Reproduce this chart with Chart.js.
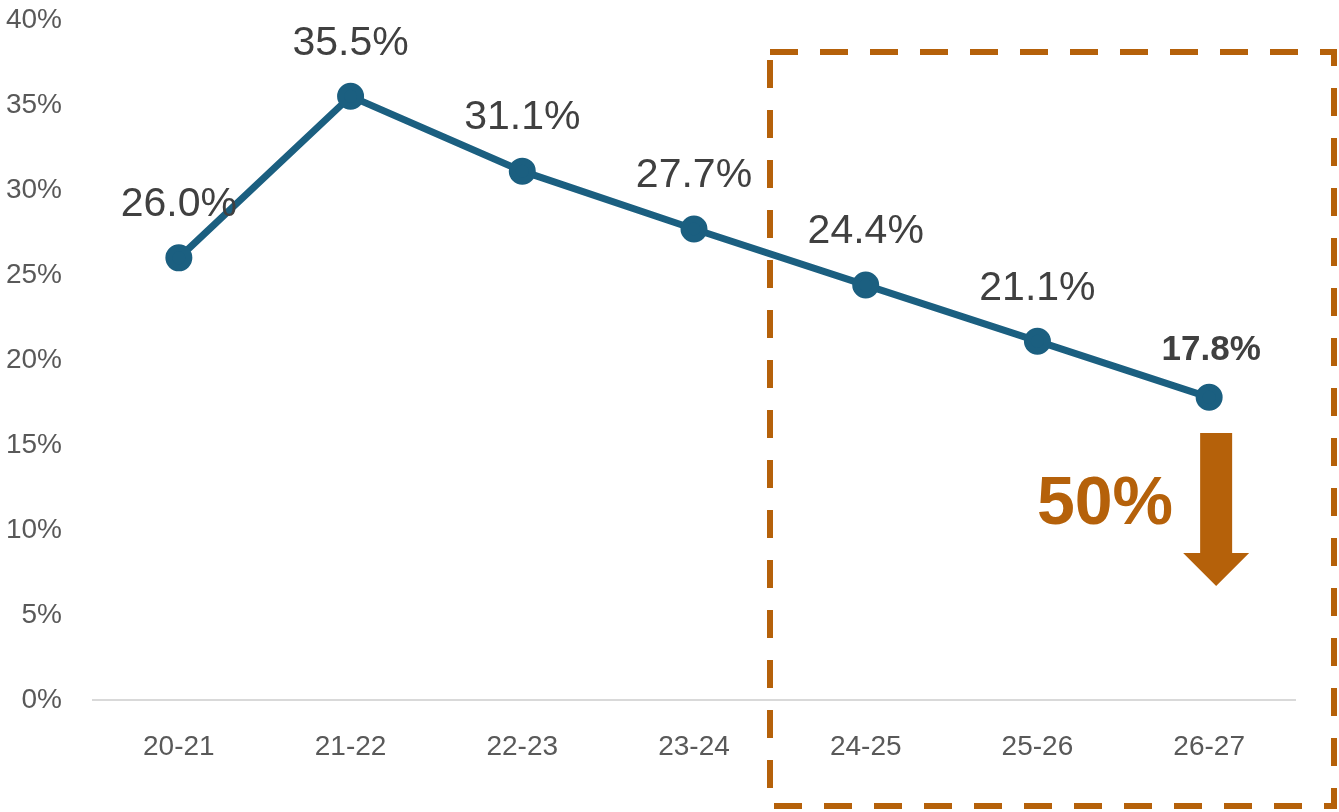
<!DOCTYPE html>
<html>
<head>
<meta charset="utf-8">
<script src="https://cdn.jsdelivr.net/npm/chart.js@4/dist/chart.umd.min.js"></script>
<style>
  html, body { margin: 0; padding: 0; background: #fff; overflow: hidden; }
  #wrap { width: 1339px; height: 840px; position: relative; top: -28px; }
</style>
</head>
<body>
<div id="wrap"><canvas id="chartShare"></canvas></div>
<script>
const years = ['20-21', '21-22', '22-23', '23-24', '24-25', '25-26', '26-27'];
const shares = [26.0, 35.5, 31.1, 27.7, 24.4, 21.1, 17.8];
const yTicks = [0, 5, 10, 15, 20, 25, 30, 35, 40];
const dropLabel = '50%';

const lineColor = '#1B5F80';
const orange = '#B5610A';
const font = '"Liberation Sans", Arial, sans-serif';
const shift = 28; // canvas sits 28px above the page top

// value labels, dashed box and the arrow
const overlay = {
  id: 'overlay',
  afterDatasetsDraw(chart) {
    const ctx = chart.ctx;
    const meta = chart.getDatasetMeta(0);
    ctx.save();
    ctx.textAlign = 'center';
    ctx.textBaseline = 'middle';
    meta.data.forEach((pt, i) => {
      const last = i === shares.length - 1;
      ctx.fillStyle = '#404040';
      ctx.font = (last ? 'bold 35px ' : '41px ') + font;
      ctx.fillText(shares[i].toFixed(1) + '%', pt.x + (last ? 2 : 0), pt.y - (last ? 47 : 53));
    });

    // dashed box
    ctx.strokeStyle = orange;
    ctx.lineWidth = 6;
    ctx.setLineDash([28, 22]);
    ctx.strokeRect(770, 52 + shift, 564, 754);
    ctx.setLineDash([]);

    // down arrow under the last point
    const last = meta.data[meta.data.length - 1];
    const ax = last.x + 7;
    const top = 433 + shift;
    ctx.fillStyle = orange;
    ctx.beginPath();
    ctx.moveTo(ax - 16, top);
    ctx.lineTo(ax + 16, top);
    ctx.lineTo(ax + 16, top + 120);
    ctx.lineTo(ax + 33, top + 120);
    ctx.lineTo(ax, top + 153);
    ctx.lineTo(ax - 33, top + 120);
    ctx.lineTo(ax - 16, top + 120);
    ctx.closePath();
    ctx.fill();

    ctx.font = 'bold 68px ' + font;
    ctx.fillText(dropLabel, 1105, 505 + shift);
    ctx.restore();
  }
};

new Chart(document.getElementById('chartShare'), {
  type: 'line',
  data: {
    labels: years,
    datasets: [{
      data: shares,
      borderColor: lineColor,
      backgroundColor: lineColor,
      borderWidth: 7,
      pointRadius: 10,
      pointHoverRadius: 10,
      tension: 0
    }]
  },
  options: {
    responsive: true,
    maintainAspectRatio: false,
    animation: false,
    layout: { padding: { top: 41, right: 44, left: 0, bottom: 0 } },
    plugins: { legend: { display: false }, tooltip: { enabled: false } },
    scales: {
      x: {
        offset: true,
        grid: { display: false, drawTicks: false },
        border: { color: '#D9D9D9', width: 2 },
        ticks: { color: '#595959', font: { family: font, size: 28 }, padding: 30 },
        afterFit: s => { s.height = 112; }
      },
      y: {
        min: 0,
        max: 40,
        afterBuildTicks: s => { s.ticks = yTicks.map(v => ({ value: v })); },
        grid: { display: false, drawTicks: false },
        border: { display: false },
        ticks: {
          color: '#595959',
          font: { family: font, size: 28 },
          padding: 31,
          callback: v => v + '%'
        },
        afterFit: s => { s.width = 93; }
      }
    }
  },
  plugins: [overlay]
});
</script>
</body>
</html>
